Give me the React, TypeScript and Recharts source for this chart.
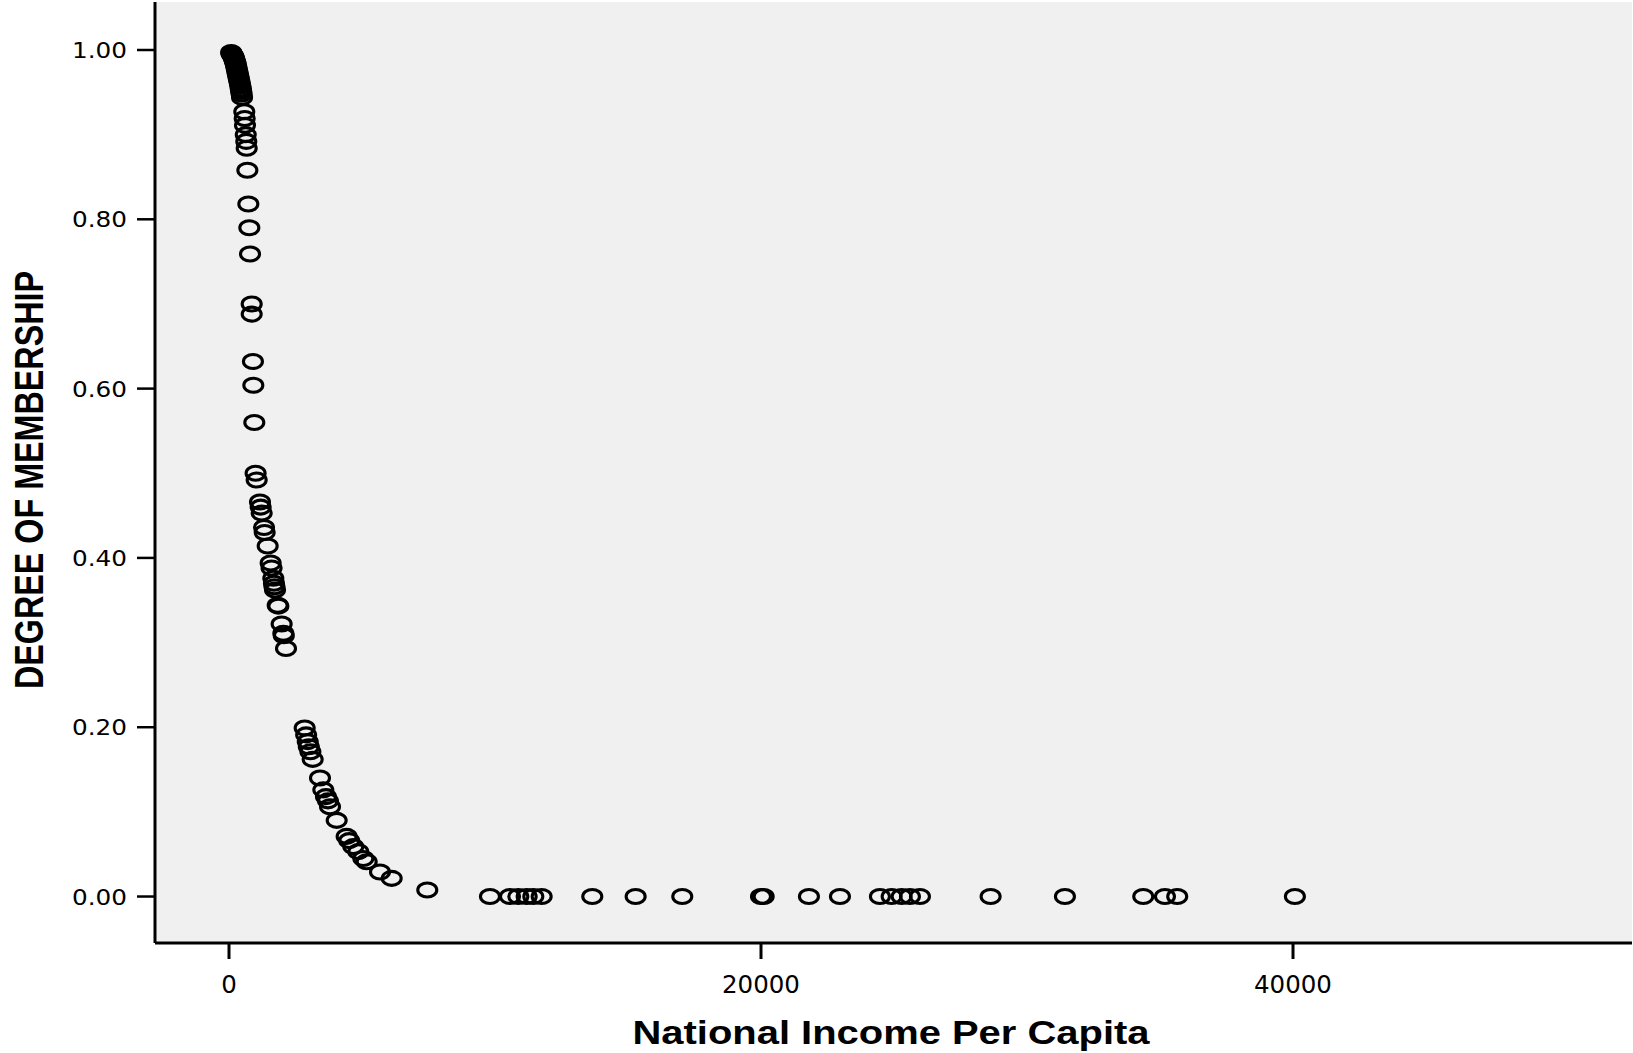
import React from 'react';
import {
  ScatterChart,
  Scatter,
  XAxis,
  YAxis,
  CartesianGrid,
} from 'recharts';

// National income per capita (x) for the descending part of the curve
const curveIncome = [
  80, 100, 110, 130, 150, 170, 190, 210, 230, 250, 270, 290, 310, 330, 350,
  370, 390, 410, 430, 445, 460, 475, 490,
  575, 590, 601, 630, 650, 665, 690, 727, 764, 790, 853, 853, 900, 914, 951,
  1000, 1040, 1165, 1190, 1229, 1316, 1340, 1454, 1566, 1600, 1666, 1690,
  1710, 1730, 1830, 1855, 1979, 2043, 2060, 2143,
  2845, 2900, 2960, 3000, 3060, 3146, 3421, 3546, 3646, 3720, 3797, 4048,
  4423, 4520, 4673, 4861, 5050, 5176, 5676, 6116, 7454,
];
// Degree of membership (y) for the same points
const curveMembership = [
  0.997, 0.996, 0.995, 0.994, 0.993, 0.992, 0.99, 0.988, 0.986, 0.984, 0.981,
  0.978, 0.975, 0.972, 0.969, 0.966, 0.963, 0.96, 0.957, 0.954, 0.951, 0.948,
  0.944,
  0.927, 0.919, 0.911, 0.9, 0.892, 0.884, 0.858, 0.818, 0.79, 0.759, 0.7,
  0.688, 0.632, 0.604, 0.56, 0.5, 0.492, 0.466, 0.46, 0.453, 0.436, 0.43,
  0.414, 0.394, 0.388, 0.376, 0.37, 0.366, 0.362, 0.344, 0.343, 0.322, 0.311,
  0.308, 0.293,
  0.199, 0.191, 0.183, 0.177, 0.171, 0.162, 0.14, 0.126, 0.118, 0.113, 0.106,
  0.09, 0.071, 0.066, 0.059, 0.053, 0.045, 0.041, 0.029, 0.0215, 0.0077,
];
// Richer countries with (almost) zero membership
const flatIncome = [
  9811, 10563, 10876, 11190, 11440, 11754, 13657, 15287, 17040, 20000, 20100,
  21802, 22968, 24471, 24911, 25287, 25599, 25975, 28632, 31426, 34370,
  35186, 35647, 40071,
];
const flatMembership = flatIncome.map(() => 0);

const xTicks = [0, 20000, 40000];
const yTicks = [0, 0.2, 0.4, 0.6, 0.8, 1.0];
const xTitle = 'National Income Per Capita';
const yTitle = 'DEGREE OF MEMBERSHIP';

const points = [
  ...curveIncome.map((x, i) => ({ x, y: curveMembership[i] })),
  ...flatIncome.map((x, i) => ({ x, y: flatMembership[i] })),
];

const W = 1633;
const H = 1053;
const PLOT_LEFT = 155;
const PLOT_TOP = 2;
const PLOT_BOTTOM = 943;
const PLOT_RIGHT = 1632;

const Ring = (props: any) => {
  const { cx, cy } = props;
  if (cx == null || cy == null) return null;
  return (
    <ellipse
      cx={cx}
      cy={cy}
      rx={9.5}
      ry={7}
      fill="none"
      stroke="#000"
      strokeWidth={3.1}
    />
  );
};

const YTick = (props: any) => {
  const { x, y, payload } = props;
  return (
    <text
      x={x}
      y={y}
      dy={8}
      textAnchor="end"
      fontFamily="DejaVu Sans"
      fontSize={22}
      fill="#000"
      textLength={55}
      lengthAdjust="spacingAndGlyphs"
    >
      {Number(payload.value).toFixed(2)}
    </text>
  );
};

const XTick = (props: any) => {
  const { x, y, payload } = props;
  return (
    <text
      x={x}
      y={y}
      dy={17.7}
      textAnchor="middle"
      fontFamily="DejaVu Sans"
      fontSize={24.5}
      fill="#000"
    >
      {String(payload.value)}
    </text>
  );
};

export default function App() {
  return (
    <div
      style={{
        position: 'absolute',
        left: 0,
        top: 0,
        width: W,
        height: H,
        background: '#fff',
        overflow: 'hidden',
      }}
    >
      <svg
        width={W}
        height={H}
        style={{ position: 'absolute', left: 0, top: 0, pointerEvents: 'none' }}
      >
        <text
          x={891}
          y={1044}
          textAnchor="middle"
          fontFamily="Liberation Sans"
          fontWeight="bold"
          fontSize={33}
          fill="#000"
          textLength={517}
          lengthAdjust="spacingAndGlyphs"
        >
          {xTitle}
        </text>
        <text
          transform="translate(43,480) rotate(-90)"
          textAnchor="middle"
          fontFamily="Liberation Sans"
          fontWeight="bold"
          fontSize={41}
          fill="#000"
          textLength={418}
          lengthAdjust="spacingAndGlyphs"
        >
          {yTitle}
        </text>
      </svg>
      <div style={{ position: 'absolute', left: 0, top: 0 }}>
        <ScatterChart
          width={W}
          height={H}
          margin={{ top: PLOT_TOP, right: W - PLOT_RIGHT, left: 0, bottom: 0 }}
        >
          <CartesianGrid
            horizontal={false}
            vertical={false}
            fill="#f0f0f0"
            stroke="none"
          />
          <XAxis
            type="number"
            dataKey="x"
            domain={[-2782, 52744]}
            allowDataOverflow
            ticks={xTicks}
            interval={0}
            height={H - PLOT_BOTTOM}
            tickSize={16}
            tickMargin={16}
            tick={<XTick />}
            tickLine={{ stroke: '#000', strokeWidth: 3 }}
            axisLine={{ stroke: '#000', strokeWidth: 3 }}
          />
          <YAxis
            type="number"
            dataKey="y"
            domain={[-0.0549, 1.0567]}
            allowDataOverflow
            ticks={yTicks}
            interval={0}
            width={PLOT_LEFT}
            tickSize={18}
            tickMargin={10}
            tick={<YTick />}
            tickLine={{ stroke: '#000', strokeWidth: 2.5 }}
            axisLine={{ stroke: '#000', strokeWidth: 3 }}
          />
          <XAxis
            xAxisId="top"
            orientation="top"
            type="number"
            domain={[-2782, 52744]}
            allowDataOverflow
            height={0}
            ticks={[]}
            tick={false}
            tickLine={false}
            axisLine={{ stroke: '#000', strokeWidth: 3 }}
          />
          <YAxis
            yAxisId="right"
            orientation="right"
            type="number"
            domain={[-0.0549, 1.0567]}
            allowDataOverflow
            width={0}
            ticks={[]}
            tick={false}
            tickLine={false}
            axisLine={{ stroke: '#000', strokeWidth: 3 }}
          />
          <Scatter
            data={points}
            shape={<Ring />}
            isAnimationActive={false}
          />
        </ScatterChart>
      </div>
    </div>
  );
}
